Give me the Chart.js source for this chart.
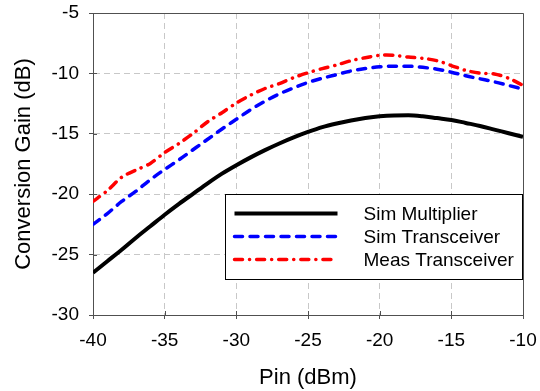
<!DOCTYPE html>
<html><head><meta charset="utf-8">
<script src="https://cdn.jsdelivr.net/npm/chart.js@4"></script>
<style>html,body{margin:0;padding:0;background:#fff}canvas{display:block}</style>
</head><body>
<canvas id="c" width="540" height="391"></canvas>
<script>
const pin = [-40,-39,-38,-37,-36,-35,-34,-33,-32,-31,-30,-29,-28,-27,-26,-25,-24,-23,-22,-21,-20,-19,-18,-17,-16,-15,-14,-13,-12,-11,-10];
const simMultiplier = [-26.5,-25.55,-24.6,-23.6,-22.65,-21.7,-20.8,-19.95,-19.1,-18.3,-17.6,-16.95,-16.35,-15.8,-15.3,-14.85,-14.45,-14.15,-13.9,-13.7,-13.55,-13.48,-13.47,-13.55,-13.7,-13.85,-14.1,-14.35,-14.65,-14.95,-15.25];
const simTransceiver = [-22.5,-21.6,-20.6,-19.75,-18.8,-17.95,-17.15,-16.3,-15.45,-14.6,-13.8,-13.0,-12.3,-11.7,-11.2,-10.75,-10.4,-10.1,-9.8,-9.6,-9.45,-9.4,-9.4,-9.5,-9.65,-9.9,-10.2,-10.45,-10.7,-11.0,-11.3];
const measTransceiver = [-20.6,-19.7,-18.6,-18.0,-17.45,-16.55,-15.8,-14.95,-14.0,-13.25,-12.45,-11.8,-11.25,-10.85,-10.35,-9.95,-9.6,-9.3,-8.95,-8.7,-8.5,-8.5,-8.65,-8.75,-8.95,-9.35,-9.75,-9.98,-10.05,-10.4,-11.0];
const seriesNames = ['Sim Multiplier','Sim Transceiver','Meas Transceiver'];
const xTitle = 'Pin (dBm)';
const yTitle = 'Conversion Gain (dB)';

const FONT = "'Liberation Sans', Arial, sans-serif";
const AXIS = '#505050';

function pts(ys){ return pin.map((x,i)=>({x:x,y:ys[i]})); }

const frameLegend = {
  id:'frameLegend',
  afterDraw(chart){
    const ctx = chart.ctx, a = chart.chartArea;
    ctx.save();
    ctx.strokeStyle = AXIS; ctx.lineWidth = 1;
    ctx.beginPath();
    ctx.moveTo(a.left, a.top+0.5); ctx.lineTo(a.right+0.5, a.top+0.5); ctx.lineTo(a.right+0.5, a.bottom);
    ctx.stroke();
    const xs = chart.scales.x, ys = chart.scales.y;
    ctx.beginPath();
    xs.ticks.forEach(t=>{ const p=Math.round(xs.getPixelForValue(t.value))+0.5; ctx.moveTo(p,a.bottom); ctx.lineTo(p,a.bottom-4); });
    ys.ticks.forEach(t=>{ const p=Math.round(ys.getPixelForValue(t.value))+0.5; ctx.moveTo(a.left,p); ctx.lineTo(a.left+4,p); });
    ctx.stroke();
    const w = a.right-a.left, h = a.bottom-a.top;
    const bx = Math.round(a.left + 0.307*w)+0.5, by = Math.round(a.top + 0.599*h)+0.5;
    const bx2 = Math.round(a.right)-0.5, by2 = Math.round(a.top + 0.881*h)+0.5;
    ctx.fillStyle = '#fff';
    ctx.fillRect(bx,by,bx2-bx,by2-by);
    ctx.strokeStyle = '#000'; ctx.lineWidth = 1;
    ctx.strokeRect(bx,by,bx2-bx,by2-by);
    chart.data.datasets.forEach((ds,i)=>{
      const y = by + 19 + i*23;
      ctx.strokeStyle = ds.borderColor; ctx.lineWidth = ds.borderWidth;
      ctx.lineCap = ds.borderCapStyle || 'butt';
      ctx.setLineDash(ds.borderDash||[]);
      ctx.beginPath(); ctx.moveTo(bx+9,y); ctx.lineTo(bx+112,y); ctx.stroke();
      ctx.setLineDash([]);
      ctx.fillStyle = '#000'; ctx.font = '19px '+FONT; ctx.textBaseline='middle'; ctx.textAlign='left';
      ctx.fillText(ds.label, bx+138, y+1);
    });
    ctx.restore();
  }
};

new Chart(document.getElementById('c'), {
  type:'line',
  data:{ datasets:[
    {label:seriesNames[0], data:pts(simMultiplier), borderColor:'#000', borderWidth:4, pointRadius:0, cubicInterpolationMode:'monotone', borderCapStyle:'butt'},
    {label:seriesNames[1], data:pts(simTransceiver), borderColor:'#0000ff', borderWidth:3.5, borderDash:[8,7.5], borderCapStyle:'round', pointRadius:0, cubicInterpolationMode:'monotone'},
    {label:seriesNames[2], data:pts(measTransceiver), borderColor:'#ff0000', borderWidth:3.5, borderDash:[8,7,0.1,7], borderCapStyle:'round', pointRadius:0, tension:0.3}
  ]},
  options:{
    responsive:false, animation:false, devicePixelRatio:1,
    layout:{padding:{left:0,right:17,top:13,bottom:0}},
    plugins:{legend:{display:false}, tooltip:{enabled:false}},
    scales:{
      x:{type:'linear', min:-40, max:-10,
        afterFit(s){ s.height = 76; s.paddingLeft = 0; s.paddingRight = 0; },
        ticks:{stepSize:5, color:'#000', font:{family:FONT,size:19}, padding:10, maxRotation:0},
        grid:{color:'#c8c8c8', lineWidth:1, tickColor:AXIS, tickLength:4, drawTicks:true},
        border:{display:true, color:AXIS, width:1, dash:[6,4]},
        title:{display:true, text:xTitle, color:'#000', font:{family:FONT,size:22}, padding:{top:0,bottom:0}}
      },
      y:{type:'linear', min:-30, max:-5,
        afterFit(s){ s.width = 93; s.paddingTop = 0; s.paddingBottom = 0; },
        ticks:{stepSize:5, color:'#000', font:{family:FONT,size:19}, padding:10},
        grid:{color:'#c8c8c8', lineWidth:1, tickColor:AXIS, tickLength:4, drawTicks:true},
        border:{display:true, color:AXIS, width:1, dash:[6,4]},
        title:{display:true, text:yTitle, color:'#000', font:{family:FONT,size:22}, padding:{top:11,bottom:0}}
      }
    }
  },
  plugins:[frameLegend]
});
</script>
</body></html>
